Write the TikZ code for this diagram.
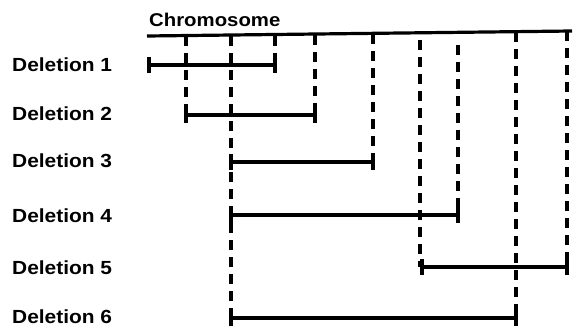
\documentclass[tikz,border=0pt]{standalone}
\usepackage{fontspec}
\newfontfamily\labelfont[FakeStretch=1.1]{Liberation Sans}
\begin{document}
\begin{tikzpicture}[x=1pt,y=-1pt]
        % Styles
        \tikzstyle{chromosome line}=[line width=3.2pt]
        \tikzstyle{deletion bar}=[line width=3.3pt]
        \tikzstyle{locus line}=[line width=3.6pt,dash pattern=on 10pt off 7pt]
        \tikzstyle{deletion text}=[anchor=west,inner sep=0pt,font=\labelfont\bfseries\fontsize{19}{21}\selectfont]
        \useasboundingbox (0,0) rectangle (573,329);
        %The graphic
        %chromosome
        \node[anchor=west,inner sep=0pt,font=\labelfont\bfseries\fontsize{18.5}{20}\selectfont] (chrom) at (149,20) {Chromosome};
        \draw[style=chromosome line] (147,36) coordinate(left end) -- (572,31) coordinate(right end);
        %deletion labels
        \foreach \n/\y in {1/65,2/114,3/161,4/216,5/268,6/317}
            \node[style=deletion text] (del\n) at (12,\y) {Deletion \n};
        %loci
        \foreach \x/\ya/\yb in {186/36/115,231/36/318,275/36/65,315/35/115,373/34/162,420/40/267,458/45/215,516/32/318,567/31/267}
            \draw[style=locus line] (\x,\ya) -- (\x,\yb);
        %deletions
        \foreach \y/\a/\b in {65/149/275,115/186/315,162/231/373,215/231/458,267/422/567,318/231/516}
        {
            \draw[style=deletion bar] (\a,\y) -- (\b,\y);
            \draw[style=deletion bar] (\a,\y-8) -- (\a,\y+8);
            \draw[style=deletion bar] (\b,\y-8) -- (\b,\y+8);
        }
    \end{tikzpicture}
\end{document}
